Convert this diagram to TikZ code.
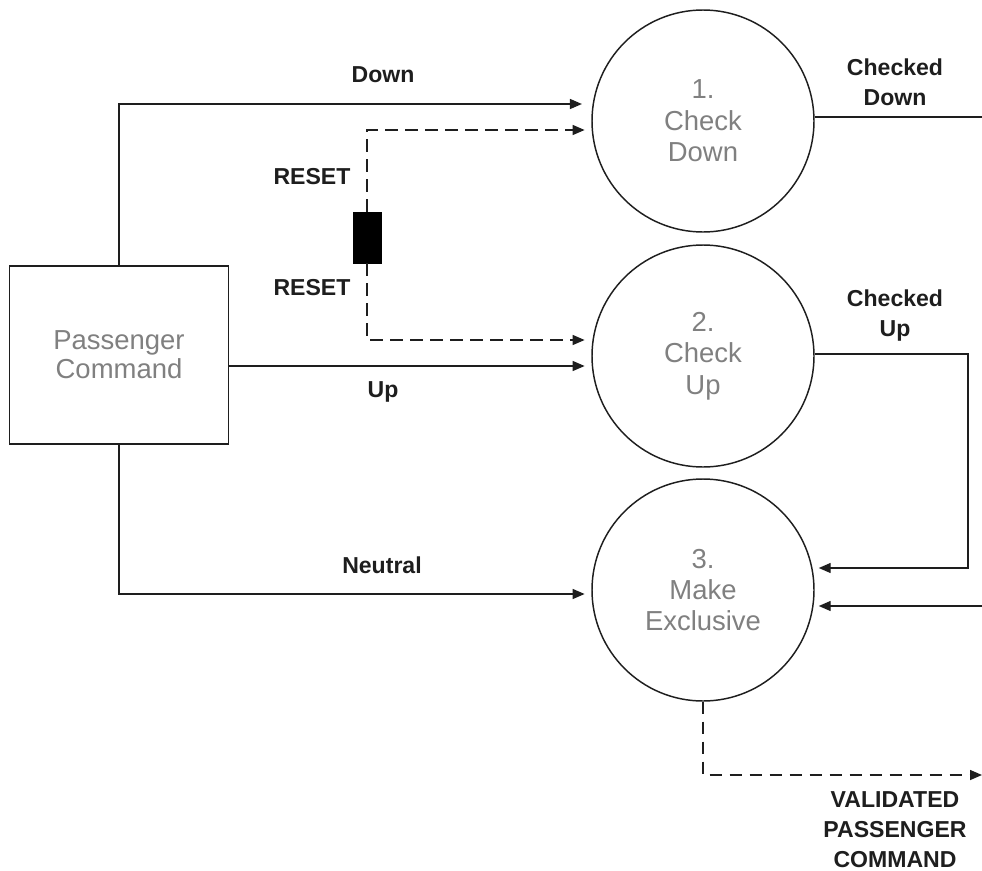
\documentclass[tikz,border=0pt]{standalone}
\usepackage{fontspec}
\setmainfont{Liberation Sans}
\usepackage{tikz}
\usetikzlibrary{arrows.meta, positioning, calc}
\definecolor{procgray}{RGB}{128,128,128}
\definecolor{linegray}{RGB}{30,30,30}

\tikzset{
  process/.style={draw=linegray, line width=1.1pt, circle, minimum size=222*0.75pt, inner sep=0pt,
    text=procgray, align=center, font=\fontsize{20.6}{23.5}\selectfont},
  entity/.style={draw=linegray, line width=1.1pt, rectangle, minimum width=219*0.75pt,
    minimum height=178*0.75pt, inner sep=0pt, text=procgray, align=center,
    font=\fontsize{20.6}{22}\selectfont},
  flow/.style={draw=linegray, line width=1.1pt, -{Triangle[length=9pt, width=7.5pt]}},
  ctrlflow/.style={flow, dash pattern=on 9.5pt off 5.5pt},
  plain/.style={draw=linegray, line width=1.1pt},
  flowlabel/.style={font=\bfseries\fontsize{17.3}{22.5}\selectfont, align=center, text=linegray}
}

\begin{document}
\begin{tikzpicture}[x=0.75pt, y=-0.75pt]
  \useasboundingbox (0,0) rectangle (982,871);
  % Processes and external entity
  \node[process] (c1) at (703,121) {1.\\Check\\Down};
  \node[process] (c2) at (703,356) {2.\\Check\\Up};
  \node[process] (c3) at (703,590) {3.\\Make\\Exclusive};
  \node[entity] (pc) at (119,355) {Passenger\\Command};
  % Reset block
  \node[fill=black, draw=black, minimum width=28*0.75pt, minimum height=51*0.75pt, inner sep=0pt] (rst) at (367,237.5) {};
  % Free ends
  \coordinate (cdout) at (982,117);
  \coordinate (cuturn) at (968,568);
  \coordinate (in3) at (982,606);
  \coordinate (vout) at (982,775);
  % Flows from Passenger Command
  \draw[flow, shorten >=7pt] (pc.north) |- ($(c1.west)+(0,-17)$);
  \draw[flow, shorten >=5pt] ($(pc.east)+(0,11)$) -- ($(c2.west)+(0,10)$);
  \draw[flow, shorten >=5pt] (pc.south) |- ($(c3.west)+(0,4)$);
  % Reset flows
  \draw[ctrlflow, shorten >=5pt] (rst.north) |- ($(c1.west)+(0,9)$);
  \draw[ctrlflow, shorten >=5pt] (rst.south) |- ($(c2.west)+(0,-16)$);
  % Outputs
  \draw[plain] ($(c1.east)+(0,-4)$) -- (cdout);
  \draw[flow, shorten >=3pt] ($(c2.east)+(0,-2)$) -| (cuturn) -- ($(c3.east)+(0,-22)$);
  \draw[flow, shorten >=3pt] (in3) -- ($(c3.east)+(0,16)$);
  \draw[ctrlflow] (c3.south) |- (vout);
  % Labels
  \node[flowlabel] (lbldown) at (383,75) {Down};
  \node[flowlabel] (lblrst1) at (312,177) {RESET};
  \node[flowlabel] (lblrst2) at (312,288) {RESET};
  \node[flowlabel] (lblup) at (383,392) {Up};
  \node[flowlabel] (lblneutral) at (382,565) {Neutral};
  \node[flowlabel] (lblcd) at (895,82) {Checked\\Down};
  \node[flowlabel] (lblcu) at (895,316) {Checked\\Up};
  \node[flowlabel] (lblvpc) at (895,830) {VALIDATED\\PASSENGER\\COMMAND};
\end{tikzpicture}
\end{document}
